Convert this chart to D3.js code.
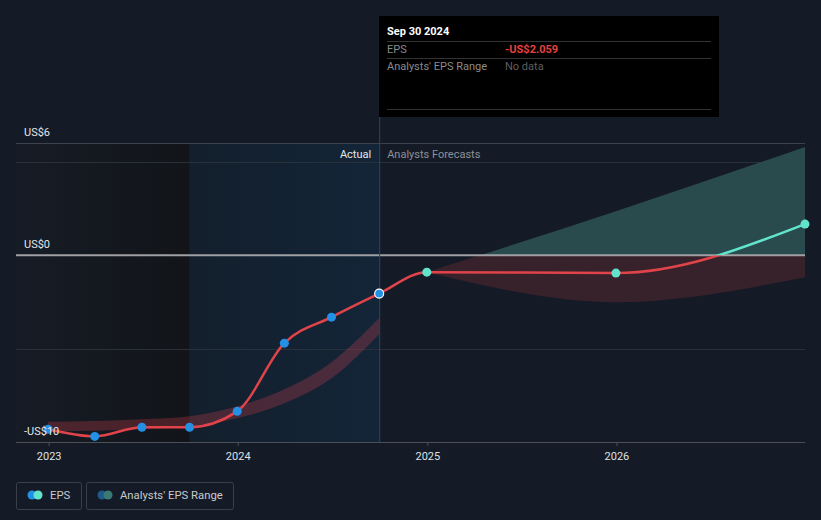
<!DOCTYPE html>
<html><head><meta charset="utf-8">
<script src="https://cdn.jsdelivr.net/npm/d3@7"></script>
<style>
html,body{margin:0;padding:0;background:#151b26;}
svg{display:block;font-family:Roboto,"Open Sans",sans-serif;}
</style></head><body>
<svg id="c" width="821" height="520"></svg>
<script>
// ---- data ----
const actualDates = ["2022-12-31","2023-03-31","2023-06-30","2023-09-30","2023-12-31","2024-03-31","2024-06-30","2024-09-30"];
const actualEPS = [-9.32,-9.70,-9.21,-9.21,-8.36,-4.71,-3.32,-2.059];
const forecastDates = ["2024-12-31","2025-12-31","2026-12-31"];
const forecastEPS = [-0.91,-0.96,1.66];
const rangeHigh = [-0.91,2.35,5.79];
const rangeLow = [-0.91,-2.52,-1.18];
const pastBandDates = ["2022-12-31","2023-06-30","2023-09-30","2023-12-31","2024-03-31","2024-06-30","2024-09-30"];
const pastBandHigh = [-8.92,-8.78,-8.62,-8.09,-7.18,-5.73,-3.37];
const pastBandLow = [-9.43,-9.32,-9.16,-8.73,-7.93,-6.59,-4.23];
const yTicks = [6,0,-10];
const yTickLabels = ["US$6","US$0","-US$10"];
const xTickYears = [2023,2024,2025,2026];

const P = d3.timeParse("%Y-%m-%d");
const svg = d3.select("#c");
const x = d3.scaleTime().domain([new Date(2022,9,30), new Date(2026,11,31)]).range([16,805]);
const y = d3.scaleLinear().domain([-10,6]).range([442,143]);
const y0 = y(0);

const defs = svg.append("defs");
const g1 = defs.append("linearGradient").attr("id","darkG").attr("x1",0).attr("x2",1);
g1.append("stop").attr("offset",0).attr("stop-color","#161c26");
g1.append("stop").attr("offset",1).attr("stop-color","#121418");
const g2 = defs.append("linearGradient").attr("id","blueG").attr("x1",0).attr("x2",1);
g2.append("stop").attr("offset",0).attr("stop-color","#131f2c");
g2.append("stop").attr("offset",1).attr("stop-color","#132538");
defs.append("clipPath").attr("id","above").append("rect").attr("x",0).attr("y",0).attr("width",821).attr("height",y0);
defs.append("clipPath").attr("id","below").append("rect").attr("x",0).attr("y",y0).attr("width",821).attr("height",520-y0);

const tEnd = P(actualDates[actualDates.length-1]);
const tStart = P(actualDates[3]);
// shaded backgrounds
svg.append("rect").attr("x",x.range()[0]).attr("y",143).attr("width",x(tStart)-x.range()[0]).attr("height",y(-10)-143).attr("fill","url(#darkG)");
svg.append("rect").attr("x",x(tStart)).attr("y",143).attr("width",x(tEnd)-x(tStart)).attr("height",y(-10)-143).attr("fill","url(#blueG)");

// gridlines
[6,5,-5].forEach((v,i)=>{
  svg.append("line").attr("x1",16).attr("x2",805).attr("y1",Math.round(y(v))+0.5).attr("y2",Math.round(y(v))+0.5)
    .attr("stroke", v===6 ? "#3c424c" : "#2a303a").attr("stroke-width",1);
});

// forecast range area
const fd = forecastDates.map(P);
const area = d3.area().x((d,i)=>x(fd[i])).y0((d,i)=>y(rangeLow[i])).y1((d,i)=>y(rangeHigh[i])).curve(d3.curveMonotoneX);
svg.append("path").datum(rangeHigh).attr("d",area).attr("fill","#2a4b4d").attr("clip-path","url(#above)");
svg.append("path").datum(rangeHigh).attr("d",area).attr("fill","#37212a").attr("clip-path","url(#below)");

// past band
const pd = pastBandDates.map(P);
const bandArea = d3.area().x((d,i)=>x(pd[i])).y0((d,i)=>y(pastBandLow[i])).y1((d,i)=>y(pastBandHigh[i])).curve(d3.curveMonotoneX);
svg.append("path").datum(pastBandHigh).attr("d",bandArea).attr("fill","rgba(214,64,78,0.28)");

// zero line
svg.append("line").attr("x1",16).attr("x2",805).attr("y1",y0).attr("y2",y0).attr("stroke","#a0a0a4").attr("stroke-width",2);

// x axis
const xAxis = d3.axisBottom(x).tickValues(xTickYears.map(yr=>new Date(yr,0,1))).tickFormat(d3.timeFormat("%Y")).tickSize(4).tickPadding(6);
const ax = svg.append("g").attr("transform",`translate(0,${y(-10)})`).call(xAxis);
ax.select(".domain").attr("stroke","#4a4f58").attr("d","M16,0.5H805");
ax.selectAll(".tick line").attr("stroke","#4a4f58");
ax.selectAll(".tick text").attr("fill","#dfe1e4").attr("font-size",11).attr("font-family","Roboto,sans-serif");

// vertical marker line
svg.append("line").attr("x1",x(tEnd)+0.5).attr("x2",x(tEnd)+0.5).attr("y1",117).attr("y2",442).attr("stroke","#2a4560").attr("stroke-width",1);

// EPS line
const allDates = actualDates.map(P).concat(fd);
const allEPS = actualEPS.concat(forecastEPS);
const line = d3.line().x((d,i)=>x(allDates[i])).y(d=>y(d)).curve(d3.curveMonotoneX);
svg.append("path").datum(allEPS).attr("d",line).attr("fill","none").attr("stroke","#e0434a").attr("stroke-width",2.5).attr("clip-path","url(#below)");
svg.append("path").datum(allEPS).attr("d",line).attr("fill","none").attr("stroke","#62e3cc").attr("stroke-width",2.5).attr("clip-path","url(#above)");

// points
svg.selectAll(".ap").data(actualEPS).enter().append("circle")
  .attr("cx",(d,i)=>x(P(actualDates[i]))).attr("cy",d=>y(d)).attr("r",4.5)
  .attr("fill","#2390e6")
  .attr("stroke",(d,i)=>i===actualEPS.length-1?"#ffffff":"none").attr("stroke-width",1.2);
svg.selectAll(".fp").data(forecastEPS).enter().append("circle")
  .attr("cx",(d,i)=>x(fd[i])).attr("cy",d=>y(d)).attr("r",4.5).attr("fill","#62e3cc");

// y labels
svg.selectAll(".yl").data(yTicks).enter().append("text")
  .attr("x",24).attr("y",d=>y(d)-7).text((d,i)=>yTickLabels[i])
  .attr("fill","#e4e6e8").attr("font-size",11);

// Actual / Forecast labels
svg.append("text").attr("x",x(tEnd)-8).attr("y",158).attr("text-anchor","end").attr("fill","#e6e8ea").attr("font-size",11).text("Actual");
svg.append("text").attr("x",x(tEnd)+8).attr("y",158).attr("fill","#8b9099").attr("font-size",11).text("Analysts Forecasts");

// tooltip
const tt = svg.append("g");
tt.append("rect").attr("x",379).attr("y",16).attr("width",340).attr("height",101).attr("fill","#000000");
tt.append("text").attr("x",387).attr("y",35).attr("fill","#ffffff").attr("font-size",11).attr("font-weight","bold").text("Sep 30 2024");
[41,58,109].forEach(v=>tt.append("line").attr("x1",387).attr("x2",711).attr("y1",v+0.5).attr("y2",v+0.5).attr("stroke","#333333"));
tt.append("text").attr("x",387).attr("y",53).attr("fill","#8a8a8a").attr("font-size",11).text("EPS");
tt.append("text").attr("x",505).attr("y",53).attr("fill","#e5403f").attr("font-size",11).attr("font-weight","bold").text("-US$2.059");
tt.append("text").attr("x",387).attr("y",70).attr("fill","#8a8a8a").attr("font-size",11).text("Analysts' EPS Range");
tt.append("text").attr("x",505).attr("y",70).attr("fill","#5e5e5e").attr("font-size",11).text("No data");

// legend
const lg = svg.append("g");
lg.append("rect").attr("x",16.5).attr("y",482.5).attr("width",65).attr("height",27).attr("rx",2).attr("fill","none").attr("stroke","#3a404a");
lg.append("circle").attr("cx",32).attr("cy",495).attr("r",4.5).attr("fill","#2390e6");
lg.append("circle").attr("cx",38).attr("cy",495).attr("r",4.5).attr("fill","#62e3cc");
lg.append("text").attr("x",50).attr("y",499).attr("fill","#c8cacd").attr("font-size",11.3).text("EPS");
lg.append("rect").attr("x",86.5).attr("y",482.5).attr("width",147).attr("height",27).attr("rx",2).attr("fill","none").attr("stroke","#3a404a");
lg.append("circle").attr("cx",102).attr("cy",495).attr("r",4.5).attr("fill","#1f5a8a");
lg.append("circle").attr("cx",108).attr("cy",495).attr("r",4.5).attr("fill","#3a7a74");
lg.append("text").attr("x",120).attr("y",499).attr("fill","#c8cacd").attr("font-size",11.3).text("Analysts' EPS Range");
</script>
</body></html>
